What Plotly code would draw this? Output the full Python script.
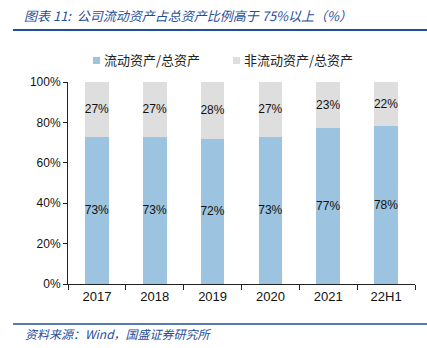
import plotly.graph_objects as go

# Data
categories = ["2017", "2018", "2019", "2020", "2021", "22H1"]
current_ratio = [73, 73, 72, 73, 77, 78]
noncurrent_ratio = [27, 27, 28, 27, 23, 22]

series_names = ["流动资产/总资产", "非流动资产/总资产"]
series_colors = ["#9CC3E0", "#DEDEDE"]
title_text = "图表 11:\u00a0\u00a0公司流动资产占总资产比例高于 75%以上（%）"
source_text = "资料来源：Wind，国盛证券研究所"

W, H = 427, 348
L, R, T, B = 68, 12, 82, 64
plot_w = W - L - R
plot_h = H - T - B


def px_x(px):
    return (px - L) / plot_w


def px_y(py):
    return (H - B - py) / plot_h


font_main = "Liberation Sans, Arial, Noto Sans CJK SC, sans-serif"
font_cjk = "Noto Sans CJK SC, sans-serif"
blue_dark = "#1F4E9A"

fig = go.Figure()
for name, vals, color in zip(series_names, [current_ratio, noncurrent_ratio], series_colors):
    fig.add_trace(go.Bar(
        x=categories, y=[v / 100 for v in vals], name=name,
        marker=dict(color=color, line=dict(width=0)),
        text=[f"{v}%" for v in vals], textposition="inside",
        insidetextanchor="middle", textangle=0, constraintext="none",
        textfont=dict(color="#111111", size=12, family=font_main),
        showlegend=False,
    ))

fig.update_layout(
    width=W, height=H,
    margin=dict(l=L, r=R, t=T, b=B),
    barmode="stack", bargap=0.59,
    plot_bgcolor="white", paper_bgcolor="white",
    font=dict(family=font_main, size=12, color="#111111"),
    showlegend=False,
)

fig.update_yaxes(
    range=[0, 1], dtick=0.2, tickformat=".0%",
    showline=True, linecolor="#222222", linewidth=1,
    ticks="outside", ticklen=4, tickcolor="#222222",
    showgrid=False, zeroline=False,
    tickfont=dict(size=12, color="#111111"),
)
fig.update_xaxes(
    type="category",
    showline=True, linecolor="#222222", linewidth=1,
    ticks="outside", ticklen=5, tickcolor="#222222", tickson="boundaries",
    showgrid=False,
    tickfont=dict(size=13, color="#111111"),
)

# Legend: small square swatch followed by the series name
legend_x = [93, 233]
for name, color, lx in zip(series_names, series_colors, legend_x):
    fig.add_shape(type="rect", xref="paper", yref="paper",
                  x0=px_x(lx), x1=px_x(lx + 7), y0=px_y(64), y1=px_y(57),
                  fillcolor=color, line=dict(width=0))
    fig.add_annotation(
        text=name, xref="paper", yref="paper",
        x=px_x(lx + 9), y=px_y(60), xanchor="left", yanchor="middle", showarrow=False,
        font=dict(family=font_cjk, size=13, color="#222222"),
    )

# Header and footer rules
fig.add_shape(type="line", xref="paper", yref="paper",
              x0=px_x(13), x1=px_x(427), y0=px_y(30), y1=px_y(30),
              line=dict(color=blue_dark, width=2))
fig.add_shape(type="line", xref="paper", yref="paper",
              x0=px_x(13), x1=px_x(427), y0=px_y(324), y1=px_y(324),
              line=dict(color=blue_dark, width=1.5))

fig.add_annotation(
    text=f"<i>{title_text}</i>", xref="paper", yref="paper",
    x=px_x(22), y=px_y(16), xanchor="left", yanchor="middle", showarrow=False,
    font=dict(family=font_cjk, size=13, color=blue_dark),
)
fig.add_annotation(
    text=f"<i>{source_text}</i>", xref="paper", yref="paper",
    x=px_x(23), y=px_y(333), xanchor="left", yanchor="middle", showarrow=False,
    font=dict(family=font_cjk, size=12, color=blue_dark),
)

fig.write_html("out.html")
